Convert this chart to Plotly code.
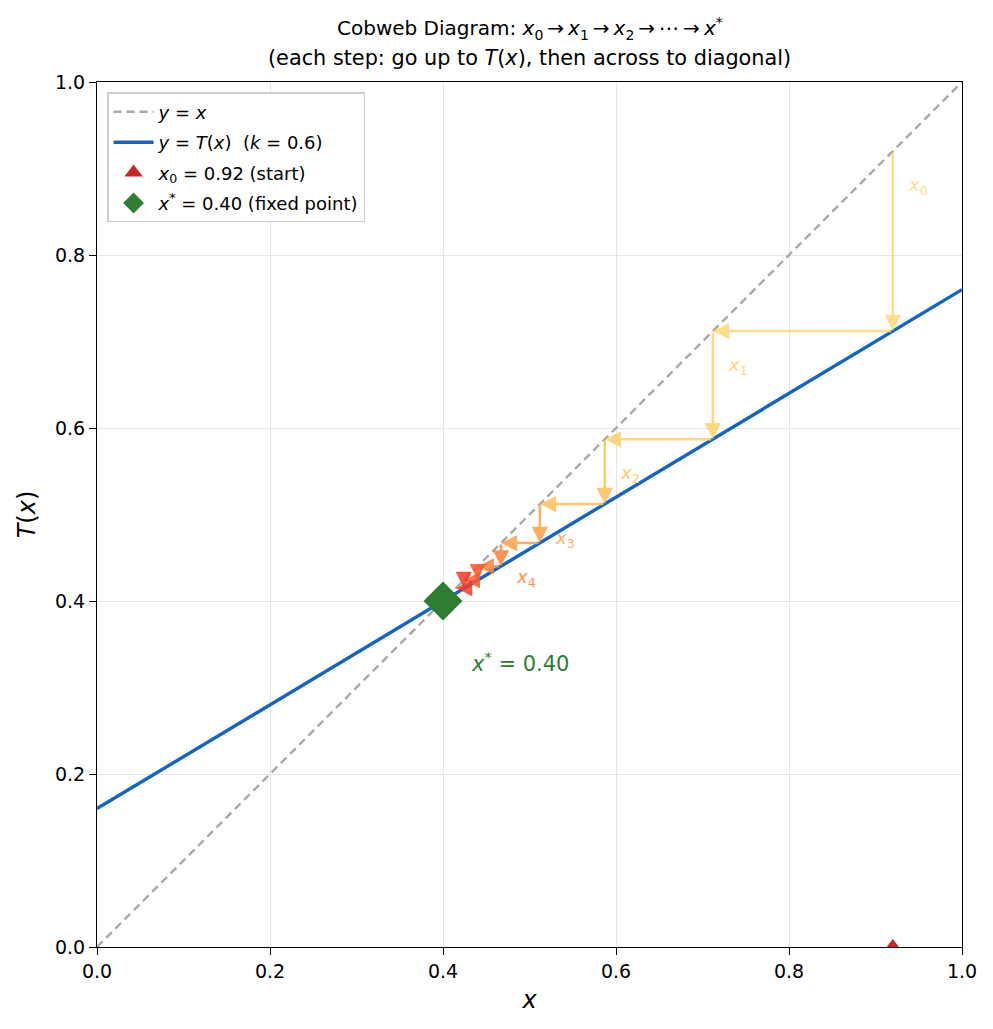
import plotly.graph_objects as go

# ---- data ----
k = 0.6
x_start = 0.92
x_fixed = 0.40
line_x = [0.0, 1.0]
line_T = [0.16, 0.76]
diag_x = [0.0, 1.0]
diag_y = [0.0, 1.0]
# cobweb iterates x_n (x_{n+1} = T(x_n))
iterates = [0.92, 0.712, 0.587, 0.512, 0.467, 0.440, 0.424, 0.415, 0.409, 0.405, 0.403]
step_colors = ["#fed976", "#fed26c", "#febf5a", "#fda047", "#fd8238", "#fb5b2d",
               "#f03b24", "#e2231f", "#d21021", "#c70823"]
labelled_steps = 5

fig = go.Figure()
fig.add_trace(go.Scatter(x=diag_x, y=diag_y, mode="lines", name="<i>y</i> = <i>x</i>",
                         legendgroup="a",
                         line=dict(color="#a8a8a8", width=2.4, dash="8px,5px")))
fig.add_trace(go.Scatter(x=line_x, y=line_T, mode="lines", legendgroup="b",
                         name="<i>y</i> = <i>T</i>(<i>x</i>)  (<i>k</i> = %.1f)" % k,
                         line=dict(color="#1565c0", width=3.4)))
fig.add_trace(go.Scatter(x=[x_start], y=[0.0], mode="markers", legendgroup="c",
                         name="<i>x</i><sub>0</sub> = %.2f (start)" % x_start,
                         marker=dict(symbol="triangle-up", size=16, color="#c62828"), cliponaxis=True))
fig.add_trace(go.Scatter(x=[x_fixed], y=[x_fixed], mode="markers", legendgroup="d",
                         name="<i>x</i><sup>*</sup> = %.2f (fixed point)" % x_fixed,
                         marker=dict(symbol="diamond", size=30, color="#2e7d32")))

annotations = []
for n in range(len(step_colors)):
    xn = iterates[n]
    tn = iterates[n + 1]
    c = step_colors[n]
    # vertical: from diagonal down to T(x)
    annotations.append(dict(x=xn, y=tn, ax=xn, ay=xn, xref="x", yref="y", axref="x", ayref="y",
                            showarrow=True, arrowhead=2, arrowsize=1.3, arrowwidth=2.5,
                            arrowcolor=c, opacity=0.85, text=""))
    # horizontal: across to diagonal
    annotations.append(dict(x=tn, y=tn, ax=xn, ay=tn, xref="x", yref="y", axref="x", ayref="y",
                            showarrow=True, arrowhead=2, arrowsize=1.3, arrowwidth=2.5,
                            arrowcolor=c, opacity=0.85, text=""))
    if n < labelled_steps:
        annotations.append(dict(x=xn + 0.015, y=xn - 0.04, xref="x", yref="y", showarrow=False,
                                text="<i>x</i><sub>%d</sub>" % n, xanchor="left", yanchor="middle",
                                font=dict(size=18, color=c), opacity=0.85))

annotations.append(dict(x=0.43, y=0.33, xref="x", yref="y", showarrow=False,
                        text="<i>x</i><sup>*</sup> = %.2f" % x_fixed, xanchor="left", yanchor="middle",
                        font=dict(size=21, color="#2e7d32")))

annotations.append(dict(x=0.5, y=1.0, xref="paper", yref="paper", yanchor="middle", showarrow=False,
                        yshift=54,
                        text="Cobweb Diagram: <i>x</i><sub>0</sub>\u2009→\u2009<i>x</i><sub>1</sub>\u2009→\u2009<i>x</i><sub>2</sub>\u2009→\u2009⋯\u2009→\u2009<i>x</i><sup>*</sup>",
                        font=dict(size=20, color="black")))
annotations.append(dict(x=0.5, y=1.0, xref="paper", yref="paper", yanchor="middle", showarrow=False,
                        yshift=24,
                        text="(each step: go up to <i>T</i>(<i>x</i>), then across to diagonal)",
                        font=dict(size=20.8, color="black")))

fig.update_layout(
    width=993, height=1029,
    margin=dict(l=97, r=31, t=82, b=82),
    paper_bgcolor="white", plot_bgcolor="white",
    font=dict(family="DejaVu Sans", color="black"),
    annotations=annotations,
    showlegend=True,
    legend=dict(x=0.012, y=0.988, xanchor="left", yanchor="top",
                bgcolor="rgba(255,255,255,0.9)", bordercolor="#cccccc", borderwidth=1.2,
                font=dict(size=18), tracegroupgap=4, itemwidth=40),
    xaxis=dict(range=[0, 1], tickvals=[0, 0.2, 0.4, 0.6, 0.8, 1.0],
               ticktext=["0.0", "0.2", "0.4", "0.6", "0.8", "1.0"],
               showgrid=True, gridcolor="#e6e6e6", gridwidth=1, zeroline=False,
               showline=True, linecolor="black", linewidth=1.2, mirror=True,
               ticks="outside", ticklen=7, tickcolor="black", tickfont=dict(size=19),
               title=dict(text="<i>x</i>", font=dict(size=24), standoff=10)),
    yaxis=dict(range=[0, 1], tickvals=[0, 0.2, 0.4, 0.6, 0.8, 1.0],
               ticktext=["0.0", "0.2", "0.4", "0.6", "0.8", "1.0"],
               showgrid=True, gridcolor="#e6e6e6", gridwidth=1, zeroline=False,
               showline=True, linecolor="black", linewidth=1.2, mirror=True,
               ticks="outside", ticklen=7, tickcolor="black", tickfont=dict(size=19),
               title=dict(text="<i>T</i>(<i>x</i>)", font=dict(size=24), standoff=12)),
)

fig.write_html("out.html")
